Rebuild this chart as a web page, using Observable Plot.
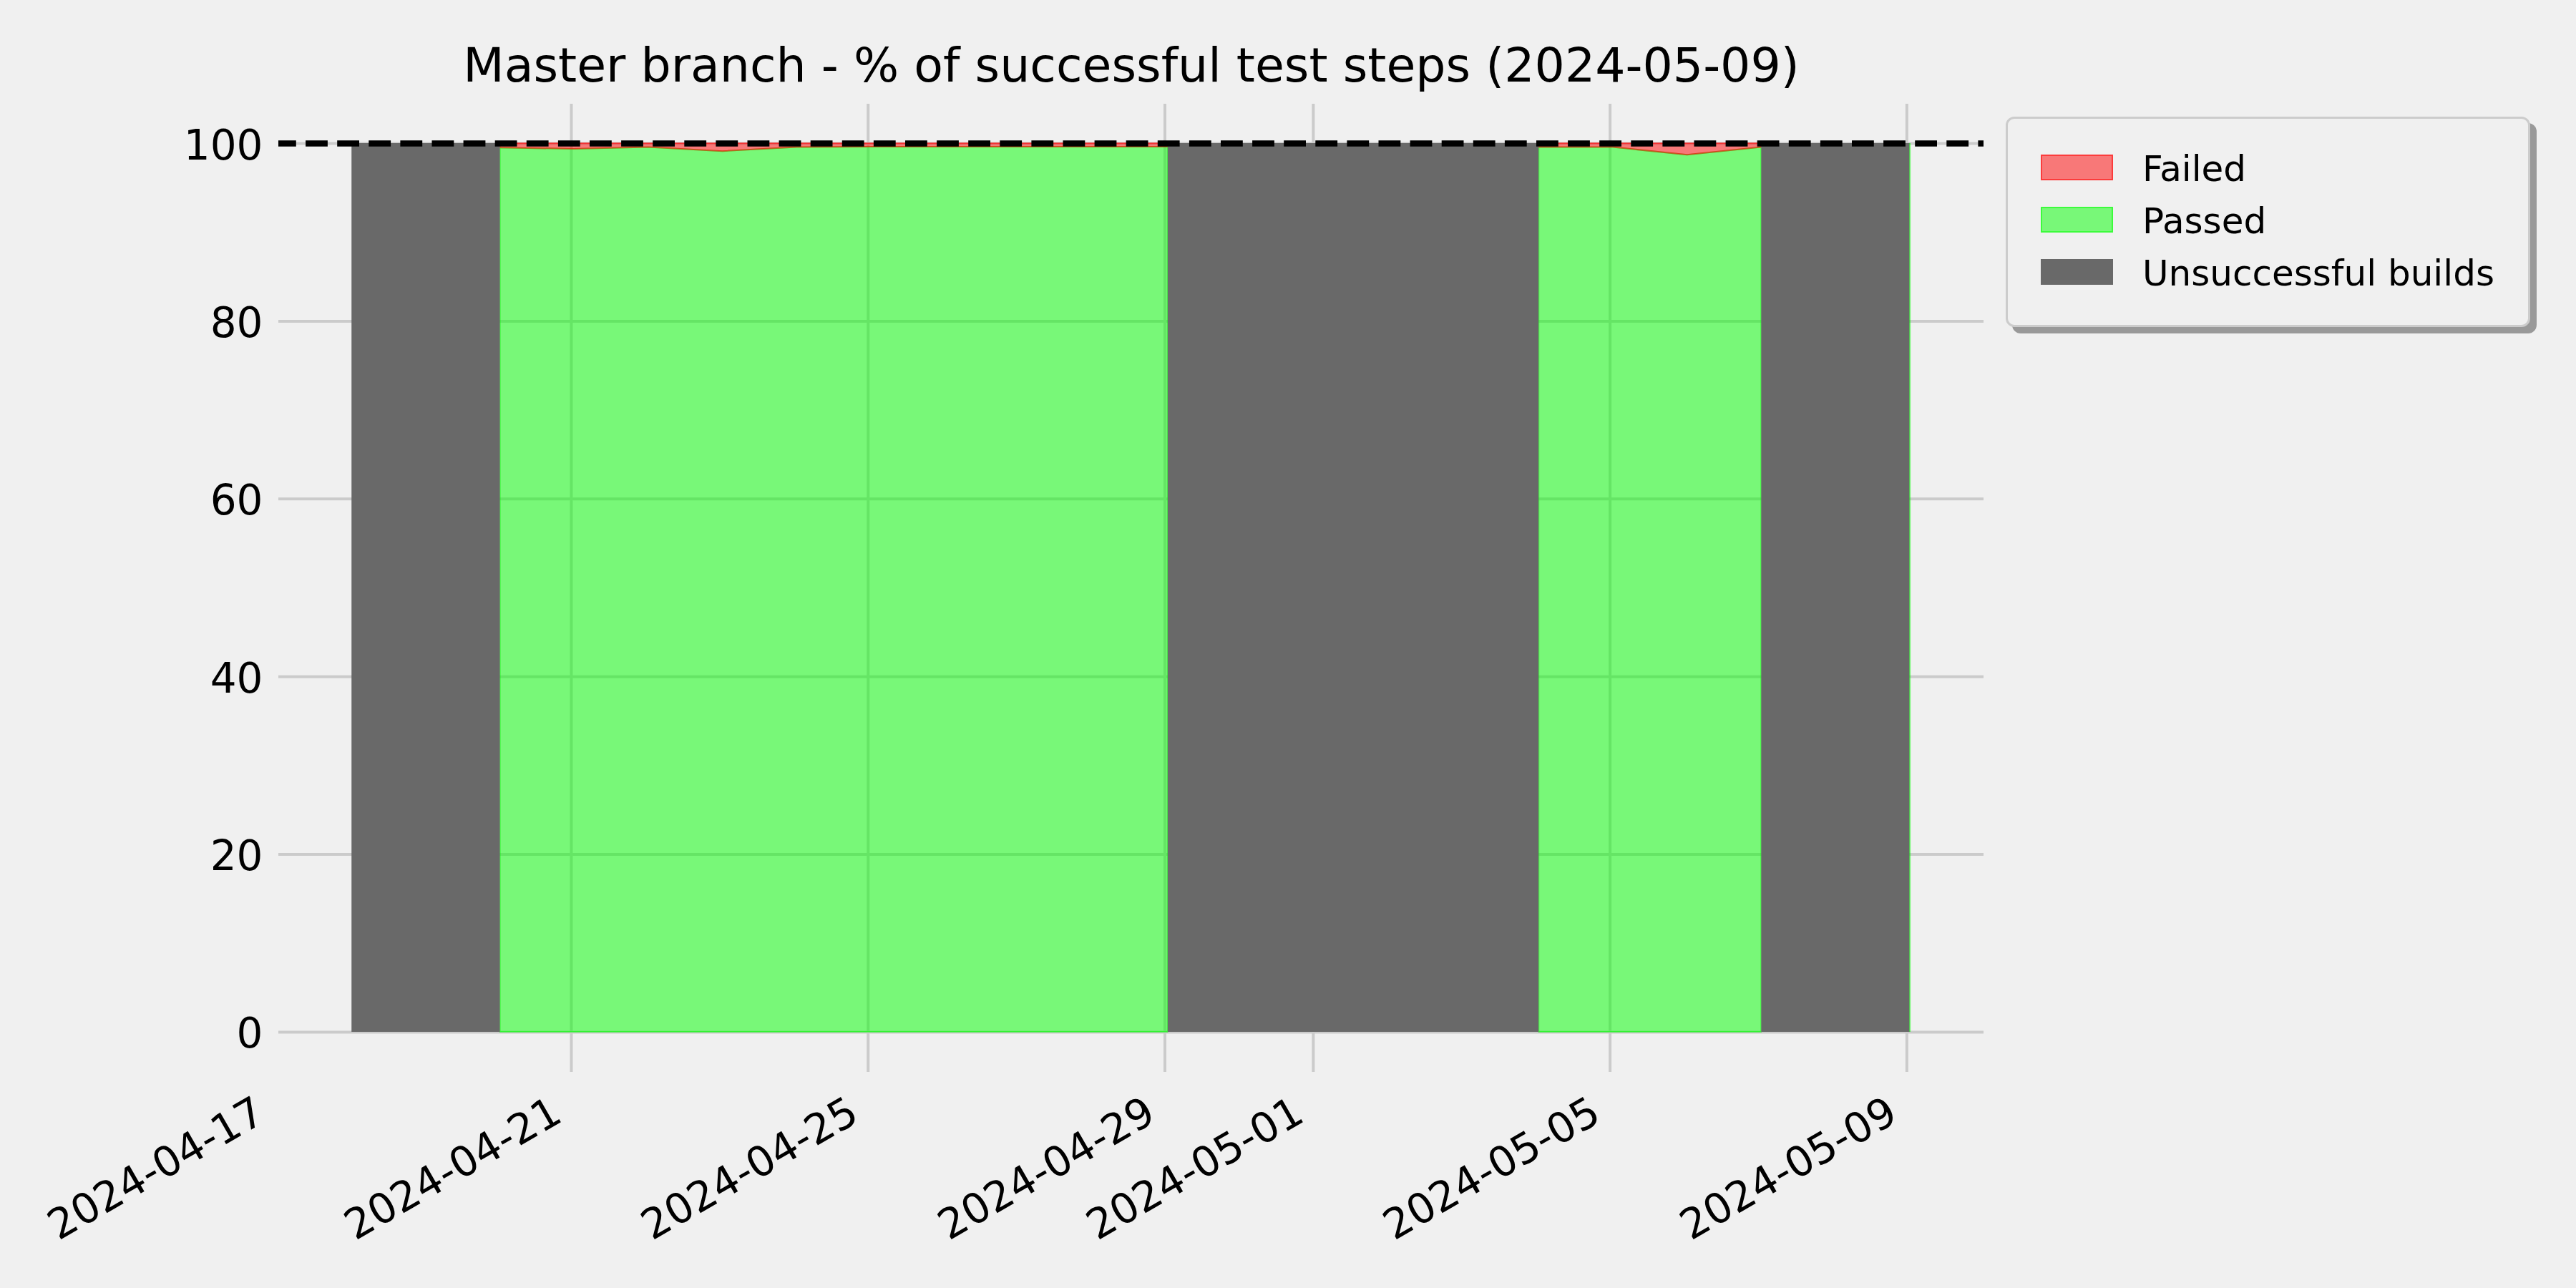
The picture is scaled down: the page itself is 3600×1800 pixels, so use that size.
<!DOCTYPE html>
<html>
<head>
<meta charset="utf-8">
<script src="https://cdn.jsdelivr.net/npm/d3@7"></script>
<script src="https://cdn.jsdelivr.net/npm/@observablehq/plot@0.6"></script>
<style>
  html, body { margin: 0; padding: 0; background: #f0f0f0; overflow: hidden; }
  #wrap { position: relative; width: 3600px; height: 1800px; background: #f0f0f0; font-family: "DejaVu Sans", sans-serif; }
  #legend { position: absolute; left: 2803px; top: 163px; width: 733px; height: 294px; box-sizing: border-box;
            background: #f0f0f0; border: 3px solid #cccccc; border-radius: 12px; box-shadow: 9px 9px 0 #999999; }
  .sw { position: absolute; left: 46px; width: 101px; height: 36px; box-sizing: border-box; }
  .lb { position: absolute; left: 188px; font-size: 50px; line-height: 1; color: #000; white-space: nowrap; }
</style>
</head>
<body>
<div id="wrap"><div id="chart"></div><div id="legend"></div></div>
<script>
// ---- data ----
const title = "Master branch - % of successful test steps (2024-05-09)";
const passDates = ["2024-04-20","2024-04-21","2024-04-22","2024-04-23","2024-04-24","2024-04-25","2024-04-26","2024-04-27","2024-04-28","2024-04-29",
                   "2024-05-04","2024-05-05","2024-05-06","2024-05-07"];
const passSegment = [1,1,1,1,1,1,1,1,1,1, 2,2,2,2];
const passedPct = [99.5,99.35,99.55,99.1,99.55,99.6,99.6,99.6,99.6,99.6, 99.55,99.55,98.7,99.55];
const failedPct = [0.5,0.65,0.45,0.9,0.45,0.4,0.4,0.4,0.4,0.4, 0.45,0.45,1.3,0.45];
const unsuccessfulStart = ["2024-04-18","2024-04-29","2024-05-07"];
const unsuccessfulEnd   = ["2024-04-20","2024-05-04","2024-05-09"];
const unsuccessfulPct = 100;
const targetPct = 100;
const xTickLabels = ["2024-04-17","2024-04-21","2024-04-25","2024-04-29","2024-05-01","2024-05-05","2024-05-09"];
const yTicks = [0,20,40,60,80,100];
const legendLabels = ["Failed","Passed","Unsuccessful builds"];

// ---- build tables ----
const buildTime = "T01:00:00Z";
const toDate = s => new Date(s + buildTime);
const passData = passDates.map((d,i) => ({date: toDate(d), seg: passSegment[i], passed: passedPct[i], total: passedPct[i] + failedPct[i]}));
const grayData = unsuccessfulStart.map((d,i) => ({x1: toDate(d), x2: toDate(unsuccessfulEnd[i]), v: unsuccessfulPct}));
const xDomain = [new Date(Date.UTC(2024,3,17,1,20)), new Date(Date.UTC(2024,4,10,0,55))];
const tickDates = xTickLabels.map(s => new Date(s + "T00:00:00Z"));
const gridDates = tickDates.filter(d => d >= xDomain[0] && d <= xDomain[1]);
const FONT = "DejaVu Sans";

const chart = Plot.plot({
  width: 3600, height: 1800,
  marginLeft: 389, marginRight: 828, marginTop: 145, marginBottom: 302,
  style: {background: "#f0f0f0", fontFamily: FONT, color: "#000", overflow: "visible"},
  x: {type: "utc", domain: xDomain, axis: null},
  y: {domain: [-4.509, 104.43], axis: null},
  marks: [
    Plot.gridY(yTicks, {stroke: "#cbcbcb", strokeOpacity: 1, strokeWidth: 4}),
    Plot.gridX(gridDates, {stroke: "#cbcbcb", strokeOpacity: 1, strokeWidth: 4}),
    Plot.areaY(passData, {x: "date", y1: 0, y2: "passed", z: "seg", fill: "lime", fillOpacity: 0.5,
                          stroke: "lime", strokeOpacity: 0.5, strokeWidth: 2}),
    Plot.areaY(passData, {x: "date", y1: "passed", y2: "total", z: "seg", fill: "red", fillOpacity: 0.5,
                          stroke: "red", strokeOpacity: 0.5, strokeWidth: 2}),
    Plot.rect(grayData, {x1: "x1", x2: "x2", y1: 0, y2: "v", fill: "#696969"}),
    Plot.ruleX(grayData.slice(-1), {x: "x2", y1: 0, y2: "v", stroke: "lime", strokeOpacity: 0.5, strokeWidth: 2}),
    Plot.ruleY([targetPct], {stroke: "black", strokeWidth: 8.33, strokeDasharray: "30.8,13.3", strokeDashoffset: 6}),
    Plot.text(yTicks, {y: d => d, text: d => String(d), frameAnchor: "left", textAnchor: "end", lineAnchor: "bottom",
                       dx: -22, dy: 22, fontSize: 58, fill: "#000"}),
    Plot.text(tickDates, {x: d => d, text: (d,i) => xTickLabels[i], frameAnchor: "bottom", textAnchor: "end", lineAnchor: "bottom",
                          rotate: -30, dx: -10, dy: 67, fontSize: 58, fill: "#000"}),
    Plot.text([title], {text: d => d, frameAnchor: "top", lineAnchor: "bottom", dy: -32, fontSize: 66.5, fill: "#000"})
  ]
});
document.getElementById("chart").appendChild(chart);

// ---- legend ----
const legendStyles = [
  {bg: "rgba(255,0,0,0.5)", border: "2px solid rgba(255,0,0,0.5)"},
  {bg: "rgba(0,255,0,0.5)", border: "2px solid rgba(0,255,0,0.5)"},
  {bg: "#696969", border: "none"}
];
const legend = document.getElementById("legend");
legendLabels.forEach((lab, i) => {
  const top = 50 + i * 73;
  const sw = document.createElement("div");
  sw.className = "sw";
  sw.style.top = top + "px";
  sw.style.background = legendStyles[i].bg;
  sw.style.border = legendStyles[i].border;
  legend.appendChild(sw);
  const t = document.createElement("div");
  t.className = "lb";
  t.style.top = (top - 5) + "px";
  t.textContent = lab;
  legend.appendChild(t);
});
</script>
</body>
</html>
